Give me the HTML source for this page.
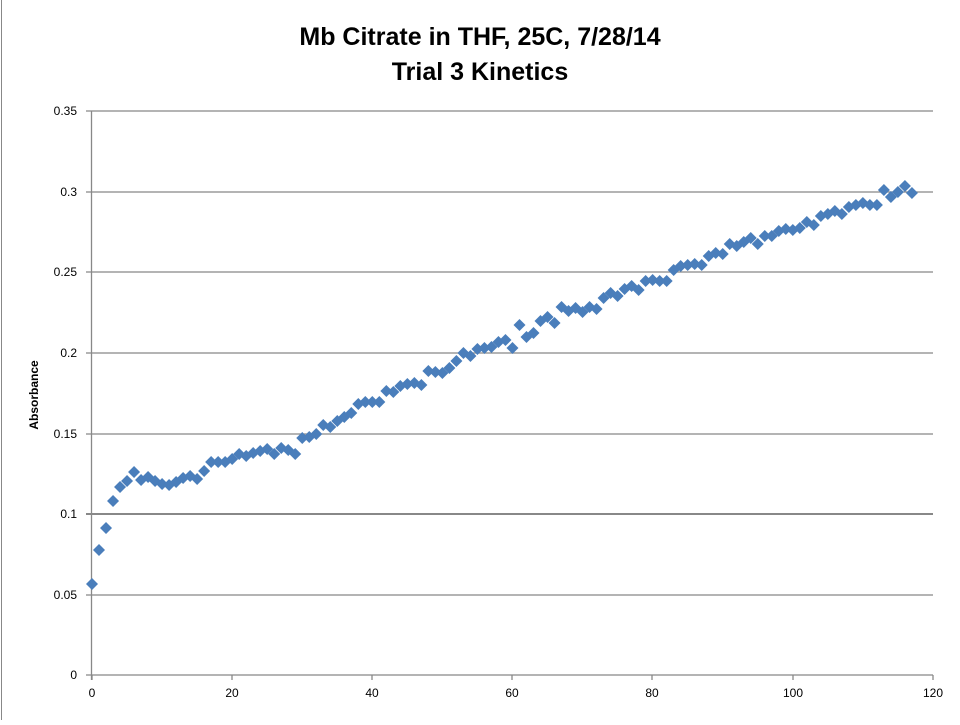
<!DOCTYPE html><html><head><style>
body{margin:0;background:#fff;width:960px;height:720px;overflow:hidden;font-family:"Liberation Sans",sans-serif}
</style></head><body>
<svg width="960" height="720" xmlns="http://www.w3.org/2000/svg">
<line x1="1.5" y1="0" x2="1.5" y2="720" stroke="#888"/>
<text x="480" y="45" font-size="25" font-weight="bold" text-anchor="middle" font-family="Liberation Sans,sans-serif">Mb Citrate in THF, 25C, 7/28/14</text>
<text x="480" y="80" font-size="25" font-weight="bold" text-anchor="middle" font-family="Liberation Sans,sans-serif">Trial 3 Kinetics</text>
<g stroke="#888" stroke-width="1.3">
<line x1="86" y1="111" x2="933" y2="111"/><line x1="86" y1="192" x2="933" y2="192"/>
<line x1="86" y1="272" x2="933" y2="272"/><line x1="86" y1="353" x2="933" y2="353"/>
<line x1="86" y1="434" x2="933" y2="434"/><line x1="86" y1="514" x2="933" y2="514" stroke-width="2"/>
<line x1="86" y1="595" x2="933" y2="595"/><line x1="86" y1="675" x2="933" y2="675"/>
<line x1="91.5" y1="111" x2="91.5" y2="680"/>
<line x1="92" y1="675" x2="92" y2="680"/><line x1="232" y1="675" x2="232" y2="680"/><line x1="372" y1="675" x2="372" y2="680"/><line x1="512" y1="675" x2="512" y2="680"/><line x1="652" y1="675" x2="652" y2="680"/><line x1="793" y1="675" x2="793" y2="680"/><line x1="933" y1="675" x2="933" y2="680"/>
</g>
<g font-size="12" text-anchor="end" fill="#000">
<text x="77" y="115">0.35</text><text x="77" y="196">0.3</text><text x="77" y="276">0.25</text><text x="77" y="357">0.2</text><text x="77" y="438">0.15</text><text x="77" y="518">0.1</text><text x="77" y="599">0.05</text><text x="77" y="679">0</text>
</g>
<g font-size="12" text-anchor="middle">
<text x="92" y="697">0</text><text x="232" y="697">20</text><text x="372" y="697">40</text><text x="512" y="697">60</text><text x="652" y="697">80</text><text x="793" y="697">100</text><text x="933" y="697">120</text>
</g>
<text transform="translate(38,395) rotate(-90)" font-size="12" font-weight="bold" text-anchor="middle">Absorbance</text>
<g id="pts" fill="#4a7ebb"></g>
</svg>
<script>
var ys=[584,550,528,501,487,481,472,480,477,481,484,485,482,478,476,479,471,462,462,462,459,454,456,453,451,449,454,448,450,454,438,437,434,425,427,421,417,413,404,402,402,402,391,392,386,384,383,385,371,372,373,368,361,353,356,349,348,347,342,340,348,325,337,333,321,317,323,307,311,308,312,307,309,298,293,296,289,286,290,281,280,281,281,270,266,265,264,265,256,253,254,244,246,242,238,244,236,236,231,229,230,228,222,225,216,214,211,214,207,205,203,205,205,190,197,192,186,193];
var g=document.getElementById('pts'),s='';
ys.forEach(function(y,i){var x=92+i*7.008;s+='<polygon points="'+x+','+(y-6)+' '+(x+6)+','+y+' '+x+','+(y+6)+' '+(x-6)+','+y+'"/>';});
g.innerHTML=s;
</script>
</body></html>
